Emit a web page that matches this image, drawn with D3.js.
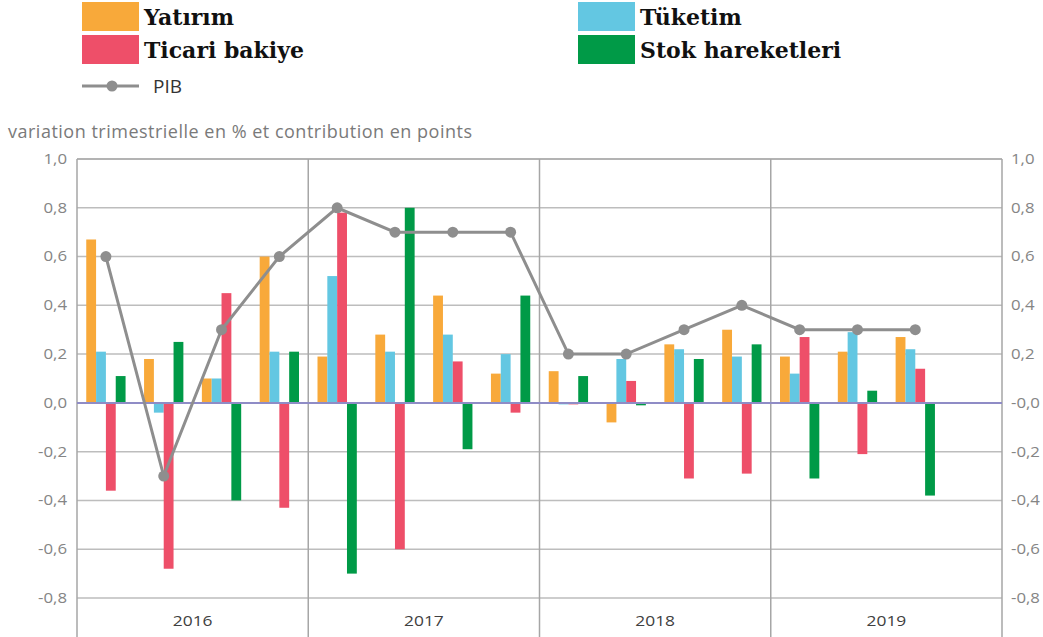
<!DOCTYPE html>
<html>
<head>
<meta charset="utf-8">
<script src="https://cdn.jsdelivr.net/npm/d3@7"></script>
<style>
  body { margin: 0; background: #fff; }
  svg { display: block; }
</style>
</head>
<body>
<svg id="chart" width="1043" height="637"></svg>
<script>
// quarters 2016T1 .. 2019T4
var quarters = ["2016T1", "2016T2", "2016T3", "2016T4",
  "2017T1", "2017T2", "2017T3", "2017T4",
  "2018T1", "2018T2", "2018T3", "2018T4",
  "2019T1", "2019T2", "2019T3", "2019T4"];
var years = ["2016", "2017", "2018", "2019"];

var yatirim = [0.67, 0.18, 0.10, 0.60, 0.19, 0.28, 0.44, 0.12, 0.13, -0.08, 0.24, 0.30, 0.19, 0.21, 0.27, null];
var tuketim = [0.21, -0.04, 0.10, 0.21, 0.52, 0.21, 0.28, 0.20, -0.005, 0.18, 0.22, 0.19, 0.12, 0.29, 0.22, null];
var ticari = [-0.36, -0.68, 0.45, -0.43, 0.78, -0.60, 0.17, -0.04, -0.005, 0.09, -0.31, -0.29, 0.27, -0.21, 0.14, null];
var stok = [0.11, 0.25, -0.40, 0.21, -0.70, 0.80, -0.19, 0.44, 0.11, -0.01, 0.18, 0.24, -0.31, 0.05, -0.38, null];
var pib = [0.6, -0.3, 0.3, 0.6, 0.8, 0.7, 0.7, 0.7, 0.2, 0.2, 0.3, 0.4, 0.3, 0.3, 0.3, null];

var yTicks = [1.0, 0.8, 0.6, 0.4, 0.2, 0.0, -0.2, -0.4, -0.6, -0.8];

var series = [
  { name: "Yatırım", values: yatirim, color: "#f8a93a" },
  { name: "Tüketim", values: tuketim, color: "#63c7e2" },
  { name: "Ticari bakiye", values: ticari, color: "#ee4f69" },
  { name: "Stok hareketleri", values: stok, color: "#009a47" }
];

var svg = d3.select("#chart");
var plotLeft = 77, plotRight = 1002, plotTop = 159, plotBottom = 637;

var y = d3.scaleLinear().domain([-0.8, 1]).range([598, plotTop]);

var x0 = d3.scaleBand().domain(quarters).range([plotLeft, plotRight]);
var xYear = d3.scaleBand().domain(years).range([plotLeft, plotRight]);
var groupW = x0.bandwidth() * 0.68;
var x1 = d3.scaleBand()
  .domain(series.map(function(s) { return s.name; }))
  .range([(x0.bandwidth() - groupW) / 2, (x0.bandwidth() + groupW) / 2]);

var locale = d3.formatLocale({ decimal: ",", thousands: " ", grouping: [3], currency: ["", ""], minus: "-" });
var fmt = locale.format(".1f");
var stretch = 1.2; // the original's labels look horizontally widened

// gridlines
svg.append("g").selectAll("line")
  .data(yTicks)
  .enter().append("line")
  .attr("x1", plotLeft).attr("x2", plotRight)
  .attr("y1", function(d) { return y(d); })
  .attr("y2", function(d) { return y(d); })
  .attr("stroke", function(d) { return d === 1 ? "#9a9a9a" : "#bdbdbd"; })
  .attr("stroke-width", 1.5);

// year dividers + frame sides
svg.append("g").selectAll("line")
  .data(years.map(function(d) { return xYear(d); }).concat([plotRight]))
  .enter().append("line")
  .attr("x1", function(d) { return d; }).attr("x2", function(d) { return d; })
  .attr("y1", plotTop).attr("y2", plotBottom)
  .attr("stroke", "#a6a6a6")
  .attr("stroke-width", 1.5);

// left axis labels
svg.append("g").selectAll("text")
  .data(yTicks)
  .enter().append("text")
  .attr("transform", function(d) {
    return "translate(" + (plotLeft - 10) + "," + y(d) + ") scale(" + stretch + ",1)";
  })
  .attr("dy", "0.35em")
  .attr("text-anchor", "end")
  .attr("font-family", "Open Sans")
  .attr("font-size", 14)
  .attr("fill", "#858585")
  .text(fmt);

// right axis labels
svg.append("g").selectAll("text")
  .data(yTicks)
  .enter().append("text")
  .attr("transform", function(d) {
    return "translate(" + (plotRight + 9) + "," + y(d) + ") scale(" + stretch + ",1)";
  })
  .attr("dy", "0.35em")
  .attr("font-family", "Open Sans")
  .attr("font-size", 14)
  .attr("fill", "#858585")
  .text(function(d) { return d === 0 ? "-0,0" : fmt(d); });

// year labels
svg.append("g").selectAll("text")
  .data(years)
  .enter().append("text")
  .attr("transform", function(d) {
    return "translate(" + (xYear(d) + xYear.bandwidth() / 2) + ",626) scale(" + stretch + ",1)";
  })
  .attr("text-anchor", "middle")
  .attr("font-family", "Open Sans")
  .attr("font-size", 14.5)
  .attr("fill", "#404040")
  .text(function(d) { return d; });

// bars
var groups = svg.append("g").selectAll("g")
  .data(quarters)
  .enter().append("g")
  .attr("transform", function(d) { return "translate(" + x0(d) + ",0)"; });

groups.selectAll("rect")
  .data(function(q, i) {
    return series.map(function(s) { return { name: s.name, color: s.color, v: s.values[i] }; })
      .filter(function(d) { return d.v !== null; });
  })
  .enter().append("rect")
  .attr("x", function(d) { return x1(d.name); })
  .attr("width", x1.bandwidth())
  .attr("y", function(d) { return y(Math.max(0, d.v)); })
  .attr("height", function(d) { return Math.max(1.5, Math.abs(y(d.v) - y(0))); })
  .attr("fill", function(d) { return d.color; });

// zero line
svg.append("line")
  .attr("x1", plotLeft).attr("x2", plotRight)
  .attr("y1", y(0)).attr("y2", y(0))
  .attr("stroke", "#8f8cc6")
  .attr("stroke-width", 2);

// PIB line
var pibData = pib.map(function(v, i) { return { q: quarters[i], v: v }; })
  .filter(function(d) { return d.v !== null; });

var line = d3.line()
  .x(function(d) { return x0(d.q) + x0.bandwidth() / 2; })
  .y(function(d) { return y(d.v); });

svg.append("path")
  .datum(pibData)
  .attr("d", line)
  .attr("fill", "none")
  .attr("stroke", "#8e8e8e")
  .attr("stroke-width", 3);

svg.append("g").selectAll("circle")
  .data(pibData)
  .enter().append("circle")
  .attr("cx", function(d) { return x0(d.q) + x0.bandwidth() / 2; })
  .attr("cy", function(d) { return y(d.v); })
  .attr("r", 5.5)
  .attr("fill", "#8e8e8e");

// axis title
svg.append("text")
  .attr("x", 8)
  .attr("y", 138)
  .attr("font-family", "Open Sans")
  .attr("font-size", 18)
  .attr("textLength", 464)
  .attr("fill", "#7a7a7a")
  .text("variation trimestrielle en % et contribution en points");

// legend
var legendPos = [
  { x: 82, y: 2 }, { x: 578, y: 2 }, { x: 82, y: 35 }, { x: 578, y: 35 }
];
var legend = svg.append("g").selectAll("g")
  .data(series)
  .enter().append("g")
  .attr("transform", function(d, i) { return "translate(" + legendPos[i].x + "," + legendPos[i].y + ")"; });

legend.append("rect")
  .attr("width", 57)
  .attr("height", 29)
  .attr("fill", function(d) { return d.color; });

legend.append("text")
  .attr("x", 62)
  .attr("y", 23)
  .attr("font-family", "DejaVu Serif")
  .attr("font-weight", "bold")
  .attr("font-size", 22)
  .attr("fill", "#111")
  .text(function(d) { return d.name; });

var pibLegend = svg.append("g").attr("transform", "translate(82,86)");
pibLegend.append("line")
  .attr("x1", 0).attr("x2", 57)
  .attr("stroke", "#8e8e8e").attr("stroke-width", 3);
pibLegend.append("circle")
  .attr("cx", 30).attr("r", 5.5).attr("fill", "#8e8e8e");
pibLegend.append("text")
  .attr("x", 71)
  .attr("dy", "0.35em")
  .attr("font-family", "Open Sans")
  .attr("font-size", 19)
  .attr("fill", "#333")
  .text("PIB");
</script>
</body>
</html>
